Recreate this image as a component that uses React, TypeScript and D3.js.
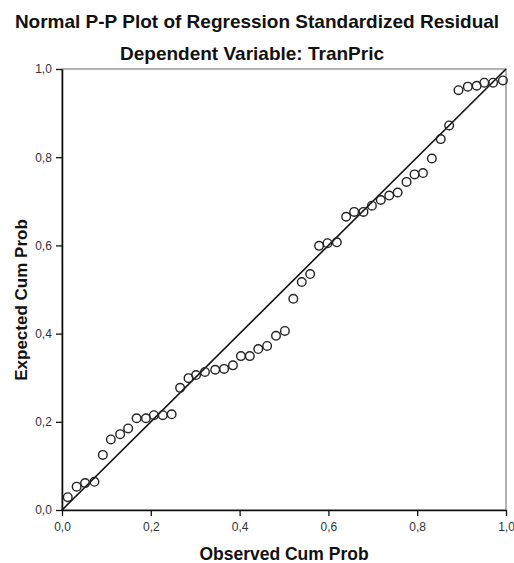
import React, { useRef, useEffect } from "react";
import * as d3 from "d3";

// observed cumulative probability (x) and expected cumulative probability (y)
const observed = [
  0.013, 0.033, 0.052, 0.073, 0.092, 0.110, 0.131, 0.149, 0.168, 0.189,
  0.207, 0.227, 0.247, 0.266, 0.285, 0.302, 0.322, 0.345, 0.365, 0.385,
  0.403, 0.423, 0.442, 0.462, 0.482, 0.502, 0.521, 0.540, 0.559, 0.579,
  0.598, 0.619, 0.640, 0.658, 0.679, 0.698, 0.718, 0.737, 0.756, 0.776,
  0.794, 0.813, 0.833, 0.853, 0.872, 0.893, 0.914, 0.934, 0.951, 0.971,
  0.993,
];
const expected = [
  0.029, 0.053, 0.061, 0.064, 0.125, 0.160, 0.172, 0.185, 0.208, 0.208,
  0.215, 0.215, 0.217, 0.277, 0.299, 0.306, 0.313, 0.318, 0.320, 0.328,
  0.349, 0.349, 0.365, 0.372, 0.395, 0.406, 0.479, 0.517, 0.535, 0.599,
  0.605, 0.607, 0.665, 0.676, 0.676, 0.690, 0.703, 0.713, 0.720, 0.744,
  0.761, 0.764, 0.797, 0.841, 0.872, 0.952, 0.960, 0.962, 0.969, 0.969,
  0.974,
];
const tickValues = [0, 0.2, 0.4, 0.6, 0.8, 1.0];

const title = "Normal P-P Plot of Regression Standardized Residual";
const subtitle = "Dependent Variable: TranPric";
const xLabel = "Observed Cum Prob";
const yLabel = "Expected Cum Prob";

const App = () => {
  const svgRef = useRef<SVGSVGElement | null>(null);

  useEffect(() => {
    const width = 514;
    const height = 563;
    const margin = { top: 69, right: 8, bottom: 53, left: 62 };
    const font = "'Liberation Sans', Arial, sans-serif";

    const svg = d3.select(svgRef.current);
    svg.selectAll("*").remove();
    svg.attr("width", width).attr("height", height);

    const x = d3.scaleLinear().domain([0, 1]).range([margin.left, width - margin.right]);
    const y = d3.scaleLinear().domain([0, 1]).range([height - margin.bottom, margin.top]);
    const fmt = (d: number) => d3.format(".1f")(d).replace(".", ",");

    // Titles
    svg.append("text")
      .attr("x", 257).attr("y", 28)
      .attr("text-anchor", "middle")
      .attr("font-family", font).attr("font-weight", "bold").attr("font-size", 19)
      .attr("fill", "#111")
      .text(title);
    svg.append("text")
      .attr("x", 252).attr("y", 60)
      .attr("text-anchor", "middle")
      .attr("font-family", font).attr("font-weight", "bold").attr("font-size", 19)
      .attr("fill", "#111")
      .text(subtitle);

    // Frame (top / right)
    svg.append("rect")
      .attr("x", x(0)).attr("y", y(1))
      .attr("width", x(1) - x(0)).attr("height", y(0) - y(1))
      .attr("fill", "none").attr("stroke", "#666").attr("stroke-width", 1);

    // Axes
    const xAxis = svg.append("g")
      .attr("transform", `translate(0, ${y(0)})`)
      .call(d3.axisBottom(x).tickValues(tickValues).tickFormat(fmt as any).tickSize(6).tickSizeOuter(0));
    const yAxis = svg.append("g")
      .attr("transform", `translate(${x(0)}, 0)`)
      .call(d3.axisLeft(y).tickValues(tickValues).tickFormat(fmt as any).tickSize(6).tickSizeOuter(0));

    [xAxis, yAxis].forEach(a => {
      a.select(".domain").attr("stroke", "#111").attr("stroke-width", 1.6);
      a.selectAll(".tick line").attr("stroke", "#111").attr("stroke-width", 1.3);
      a.selectAll(".tick text")
        .attr("font-family", font).attr("font-size", 12).attr("fill", "#333");
    });
    xAxis.selectAll(".tick text").attr("dy", "1em");
    yAxis.selectAll(".tick text").attr("dx", "-0.1em");

    // Axis labels
    svg.append("text")
      .attr("x", (x(0) + x(1)) / 2).attr("y", 560)
      .attr("text-anchor", "middle")
      .attr("font-family", font).attr("font-weight", "bold").attr("font-size", 17.5)
      .attr("fill", "#111")
      .text(xLabel);
    svg.append("text")
      .attr("transform", `translate(27, 300) rotate(-90)`)
      .attr("text-anchor", "middle")
      .attr("font-family", font).attr("font-weight", "bold").attr("font-size", 17)
      .attr("fill", "#111")
      .text(yLabel);

    // Reference diagonal
    svg.append("line")
      .attr("x1", x(0)).attr("y1", y(0))
      .attr("x2", x(1)).attr("y2", y(1))
      .attr("stroke", "#111").attr("stroke-width", 1.6);

    // Points
    const pts = observed.map((o, i) => ({ o, e: expected[i] }));
    svg.append("g").selectAll("circle")
      .data(pts)
      .enter().append("circle")
      .attr("cx", d => x(d.o))
      .attr("cy", d => y(d.e))
      .attr("r", 4.3)
      .attr("fill", "none")
      .attr("stroke", "#222")
      .attr("stroke-width", 1.4);
  }, []);

  return (
    <svg ref={svgRef} style={{ position: "absolute", left: 0, top: 0, background: "#fff" }}></svg>
  );
};

export default App;
